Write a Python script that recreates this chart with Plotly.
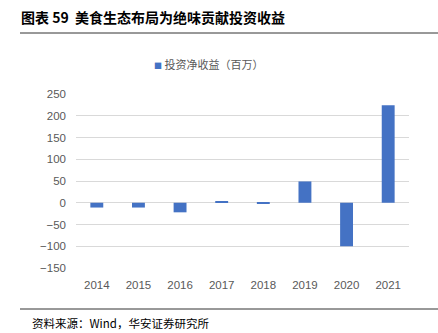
import plotly.graph_objects as go

years = ["2014", "2015", "2016", "2017", "2018", "2019", "2020", "2021"]
invest_income = [-11, -11, -22, 3, -2, 49, -100, 224]
series_name = "投资净收益（百万）"
title_text = "图表 59  美食生态布局为绝味贡献投资收益"
source_text = "资料来源：Wind，华安证券研究所"

W, H = 438, 333
L, R, T, B = 76, 29, 94, 65
ph = H - T - B
pw = W - L - R

def px_x(x):
    return (x - L) / pw

def px_y(y):
    return (H - B - y) / ph

cjk = "Noto Sans CJK SC"
num_font = "Liberation Sans, Arial, " + cjk
bar_color = "#4472C4"

fig = go.Figure()
fig.add_trace(go.Bar(
    x=years, y=invest_income, name=series_name,
    marker=dict(color=bar_color, line=dict(width=0)),
    width=0.31, showlegend=False,
))

legend_text = ('<span style="color:%s;font-size:8px">■</span> %s'
               % (bar_color, series_name))

fig.update_layout(
    width=W, height=H,
    margin=dict(l=L, r=R, t=T, b=B),
    paper_bgcolor="white", plot_bgcolor="white",
    bargap=0.69,
    showlegend=False,
    title=dict(
        text="<b>" + title_text + "</b>",
        xref="container", yref="container",
        x=21 / W, xanchor="left", y=1 - 18 / H, yanchor="middle",
        font=dict(family=cjk, size=14, color="#000000"),
    ),
    xaxis=dict(
        showgrid=False, showline=False, zeroline=False, ticks="",
        tickfont=dict(family=num_font, size=11.5, color="#595959"),
        ticklabelstandoff=8,
        fixedrange=True,
    ),
    yaxis=dict(
        range=[-150, 250], dtick=50, tick0=0,
        showgrid=True, gridcolor="#d9d9d9", gridwidth=1,
        zeroline=True, zerolinecolor="#d9d9d9", zerolinewidth=1,
        showline=False, ticks="",
        tickfont=dict(family=num_font, size=11.5, color="#595959"),
        ticklabelstandoff=9,
        fixedrange=True,
    ),
    shapes=[
        dict(type="line", xref="paper", yref="paper",
             x0=px_x(20), x1=px_x(438), y0=px_y(33), y1=px_y(33),
             line=dict(color="#333333", width=1)),
        dict(type="line", xref="paper", yref="paper",
             x0=px_x(20), x1=px_x(438), y0=px_y(309), y1=px_y(309),
             line=dict(color="#333333", width=1)),
    ],
    annotations=[
        dict(text=legend_text, xref="paper", yref="paper",
             x=px_x(208), y=px_y(64), xanchor="center", yanchor="middle",
             showarrow=False,
             font=dict(family=cjk, size=11, color="#595959")),
        dict(text=source_text, xref="paper", yref="paper",
             x=px_x(30), y=px_y(323), xanchor="left", yanchor="middle",
             showarrow=False,
             font=dict(family=cjk, size=11.5, color="#000000")),
    ],
)

fig.write_html("out.html")
